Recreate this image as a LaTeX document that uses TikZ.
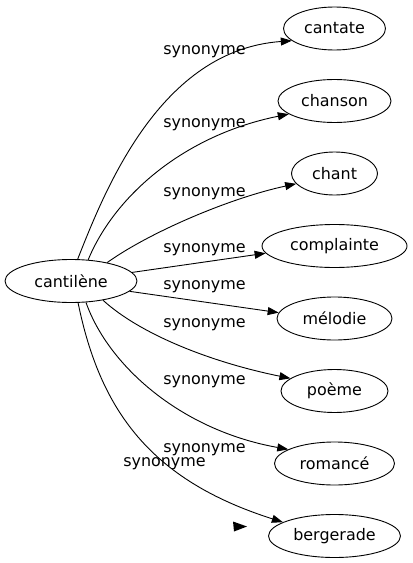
\documentclass[tikz,border=0pt]{standalone}
\usepackage{fontspec}
\setmainfont{DejaVu Sans}
\usetikzlibrary{shapes.geometric,arrows.meta}
\tikzset{
        word/.style={ellipse, draw=black, line width=0.9bp, inner sep=0pt, minimum height=43bp, font=\fontsize{16}{19}\selectfont},
        rel/.style={inner sep=0pt, font=\fontsize{16}{19}\selectfont},
        syn/.style={line width=0.9bp, -{Triangle[length=11bp,width=8bp]}}
          }
\begin{document}
\begin{tikzpicture}
        [x=1bp, y=-1bp]
        \useasboundingbox (0,0) rectangle (412,563);
        \node[word, minimum width=132bp] (cl) at (71,281) {cantilène};
        \foreach \n/\t/\w [count=\i from 0] in {cantate/cantate/102, chanson/chanson/113,
            chant/chant/86, complainte/complainte/145, melodie/mélodie/115,
            poeme/poème/107, romance/romancé/120, bergerade/bergerade/132}
          \node[word, minimum width=\w bp] (\n) at (334.5,28.5+72.5*\i) {\t};
        \foreach \y [count=\i] in {51.5,125,193.5,250,286.5,325,381.5,450}
          \node[rel] (s\i) at (204.5,\y) {synonyme};
        \node[rel] (s9) at (164.5,463.5) {synonyme};
        \draw[syn] (cl.73) .. controls (105,190) and (160,50) .. (cantate.196);
        \draw[syn] (cl.51) .. controls (115,195) and (185,135) .. (chanson.196);
        \draw[syn] (cl.27) .. controls (150,232) and (230,198) .. (chant.195);
        \draw[syn] (cl.8) -- (complainte.186);
        \draw[syn] (cl.-10) -- (melodie.174);
        \draw[syn] (cl.-31) .. controls (140,334) and (210,362) .. (poeme.164);
        \draw[syn] (cl.-55) .. controls (108,365) and (180,430) .. (romance.163);
        \draw[syn] (cl.-72) .. controls (100,410) and (150,480) .. (bergerade.165);
        \fill (233,521.5) -- (247,526.5) -- (234,531.5) -- cycle;
      \end{tikzpicture}
\end{document}
